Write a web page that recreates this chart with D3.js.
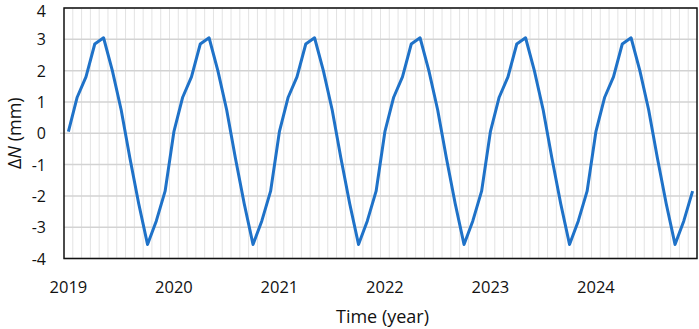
<!DOCTYPE html>
<html>
<head>
<meta charset="utf-8">
<script src="https://cdn.jsdelivr.net/npm/d3@7"></script>
<style>
  body { margin: 0; background: #fff; }
  text { font-family: "Open Sans", "Liberation Sans", sans-serif; fill: #111; }
</style>
</head>
<body>
<div id="chart"></div>
<script>
// data: monthly displacement, Jan 2019 .. Dec 2024
const years = [2019, 2020, 2021, 2022, 2023, 2024];
const monthValues = [0.05, 1.15, 1.8, 2.85, 3.05, 2.0, 0.75, -0.8, -2.25, -3.55, -2.8, -1.85];
const yTicks = [-4, -3, -2, -1, 0, 1, 2, 3, 4];

let series = [];
for (let y of years) {
    monthValues.forEach((v, m) => series.push({ idx: series.length, year: y, month: m, value: v }));
}

const W = 699, H = 329;
const mleft = 64, mright = 2, mtop = 8, mbottom = 70;

let svg = d3.select("#chart").append("svg")
    .attr("width", W)
    .attr("height", H);

let x = d3.scaleBand()
    .domain(series.map(d => d.idx))
    .range([mleft, W - mright]);

let y = d3.scaleLinear()
    .domain([-4, 4])
    .range([H - mbottom - 0.5, mtop]);

// vertical grid at category boundaries
svg.append("g")
    .selectAll("line")
    .data(series.slice(1))
    .join("line")
        .attr("x1", d => x(d.idx))
        .attr("x2", d => x(d.idx))
        .attr("y1", y(4))
        .attr("y2", y(-4))
        .attr("stroke", "#e3e3e3")
        .attr("stroke-width", 1);

// horizontal grid
svg.append("g")
    .selectAll("line")
    .data(yTicks)
    .join("line")
        .attr("x1", d => d == 0 ? mleft - 4 : mleft)
        .attr("x2", W - mright)
        .attr("y1", d => y(d))
        .attr("y2", d => y(d))
        .attr("stroke", "#d3d3d3")
        .attr("stroke-width", 1.5);

// frame
svg.append("rect")
    .attr("x", mleft)
    .attr("y", y(4))
    .attr("width", W - mright - mleft)
    .attr("height", y(-4) - y(4))
    .attr("fill", "none")
    .attr("stroke", "#111")
    .attr("stroke-width", 1.5);

// y tick labels (top one kept inside the page)
svg.append("g")
    .selectAll("text")
    .data(yTicks)
    .join("text")
        .attr("x", 46)
        .attr("y", d => Math.max(y(d) + 6, 17))
        .attr("text-anchor", "end")
        .style("font-size", "16px")
        .text(d => d);

// x tick labels (one per year, at January)
svg.append("g")
    .selectAll("text")
    .data(series.filter(d => d.month == 0))
    .join("text")
        .attr("x", d => x(d.idx) + x.bandwidth() / 2)
        .attr("y", 293)
        .attr("text-anchor", "middle")
        .style("font-size", "16.5px")
        .text(d => d.year);

// axis titles
svg.append("text")
    .attr("x", (mleft + W - mright) / 2 + 2)
    .attr("y", 323)
    .attr("text-anchor", "middle")
    .style("font-size", "18px")
    .text("Time (year)");

let yt = svg.append("text")
    .attr("transform", `translate(21, ${y(0)}) rotate(-90)`)
    .attr("text-anchor", "middle")
    .style("font-size", "18px");
yt.append("tspan").text("Δ");
yt.append("tspan").style("font-style", "italic").text("N");
yt.append("tspan").text(" (mm)");

// the line
let line = d3.line()
    .x(d => x(d.idx) + x.bandwidth() / 2)
    .y(d => y(d.value));

svg.append("path")
    .datum(series)
    .attr("d", line)
    .attr("fill", "none")
    .attr("stroke", "#1f72c8")
    .attr("stroke-width", 3)
    .attr("stroke-linejoin", "round");
</script>
</body>
</html>
